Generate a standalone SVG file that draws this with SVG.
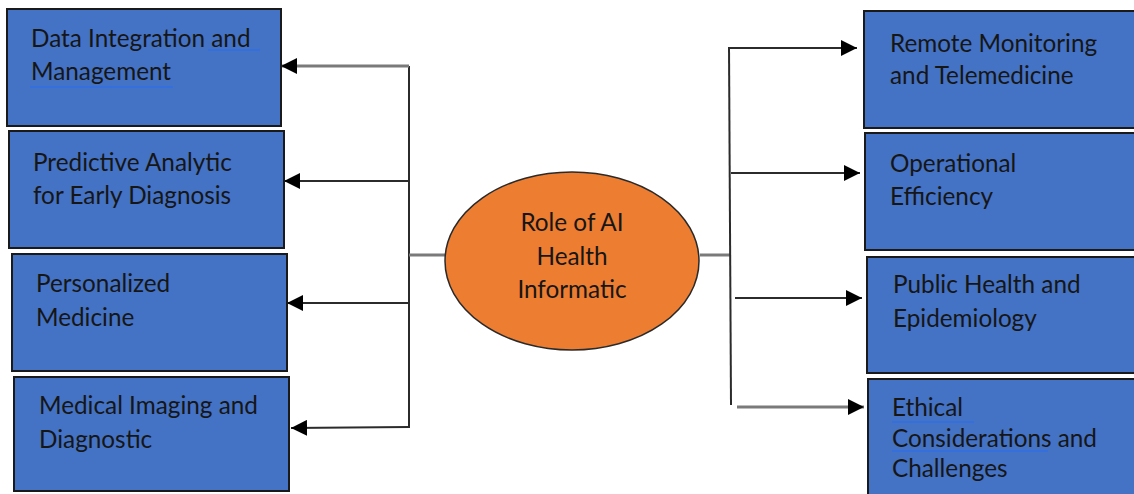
<svg xmlns="http://www.w3.org/2000/svg" width="1134" height="494" viewBox="0 0 1134 494">
  <style>
    .box { fill: #4472C4; stroke: #1a1a1a; stroke-width: 2; }
    .hub { fill: #ED7D31; stroke: #2a2a2a; stroke-width: 1.5; }
    .label { font-family: Lato, "Open Sans", "Liberation Sans", sans-serif; font-size: 24.3px; fill: #161616; }
    .mid { text-anchor: middle; }
    .wire { fill: none; stroke: #2b2b2b; stroke-width: 2; }
    .wire.soft { stroke: #7a7a7a; stroke-width: 3; }
    .arrow { marker-end: url(#head); }
    .spell { stroke: #2f6fe6; stroke-width: 1.5; }
  </style>
  <defs>
    <marker id="head" viewBox="0 0 16 16" refX="16" refY="8" markerWidth="16" markerHeight="16" markerUnits="userSpaceOnUse" orient="auto">
      <path d="M0,0 L16,8 L0,16 Z" fill="#000"/>
    </marker>
  </defs>

  <rect width="1134" height="494" fill="#ffffff"/>

  <!-- connectors -->
  <g id="connectors">
    <!-- left trunk -->
    <line class="wire" x1="409" y1="66" x2="409" y2="428"/>
    <line class="wire soft" x1="409" y1="255" x2="445" y2="255"/>
    <line class="wire soft arrow" x1="409" y1="66" x2="281" y2="66"/>
    <line class="wire arrow" x1="409" y1="181" x2="284" y2="181"/>
    <line class="wire arrow" x1="409" y1="303" x2="287" y2="303"/>
    <line class="wire arrow" x1="409" y1="427" x2="291" y2="428"/>
    <!-- right trunk -->
    <line class="wire soft" x1="700" y1="255" x2="731" y2="255"/>
    <line class="wire" x1="729" y1="47" x2="731" y2="405"/>
    <line class="wire arrow" x1="729" y1="48" x2="857" y2="48"/>
    <line class="wire arrow" x1="731" y1="173" x2="860" y2="173"/>
    <line class="wire arrow" x1="735" y1="298" x2="862" y2="298"/>
    <line class="wire soft arrow" x1="737" y1="407" x2="864" y2="407"/>
  </g>

  <!-- centre -->
  <g id="hub">
    <ellipse class="hub" cx="572" cy="261" rx="127" ry="89"/>
    <text class="label mid" x="572" y="231">Role of AI</text>
    <text class="label mid" x="572" y="265">Health</text>
    <text class="label mid" x="572" y="298">Informatic</text>
  </g>

  <!-- left column -->
  <g id="data-integration">
    <rect class="box" x="7" y="9" width="274" height="117"/>
    <text class="label" x="31" y="47">Data Integration and</text>
    <text class="label" x="31" y="80">Management</text>
    <line class="spell" x1="208" y1="50" x2="260" y2="50"/>
    <line class="spell" x1="30" y1="87" x2="173" y2="87"/>
  </g>
  <g id="predictive-analytic">
    <rect class="box" x="9" y="131" width="275" height="117"/>
    <text class="label" x="33" y="171">Predictive Analytic</text>
    <text class="label" x="33" y="204">for Early Diagnosis</text>
  </g>
  <g id="personalized-medicine">
    <rect class="box" x="12" y="254" width="275" height="117"/>
    <text class="label" x="36" y="292">Personalized</text>
    <text class="label" x="36" y="326">Medicine</text>
  </g>
  <g id="medical-imaging">
    <rect class="box" x="14" y="377" width="275" height="114"/>
    <text class="label" x="39" y="414">Medical Imaging and</text>
    <text class="label" x="39" y="448">Diagnostic</text>
  </g>

  <!-- right column -->
  <g id="remote-monitoring">
    <rect class="box" x="864" y="11" width="280" height="117"/>
    <text class="label" x="890" y="52">Remote Monitoring</text>
    <text class="label" x="890" y="84">and Telemedicine</text>
  </g>
  <g id="operational-efficiency">
    <rect class="box" x="865" y="133" width="280" height="117"/>
    <text class="label" x="890" y="172">Operational</text>
    <text class="label" x="890" y="205">Efficiency</text>
  </g>
  <g id="public-health">
    <rect class="box" x="867" y="257" width="280" height="116"/>
    <text class="label" x="893" y="293">Public Health and</text>
    <text class="label" x="893" y="327">Epidemiology</text>
  </g>
  <g id="ethical-considerations">
    <rect class="box" x="868" y="379" width="280" height="120"/>
    <text class="label" x="892" y="416">Ethical</text>
    <text class="label" x="892" y="447">Considerations and</text>
    <text class="label" x="892" y="477">Challenges</text>
    <line class="spell" x1="892" y1="422" x2="974" y2="422"/>
    <line class="spell" x1="892" y1="451" x2="1048" y2="451"/>
  </g>
</svg>
